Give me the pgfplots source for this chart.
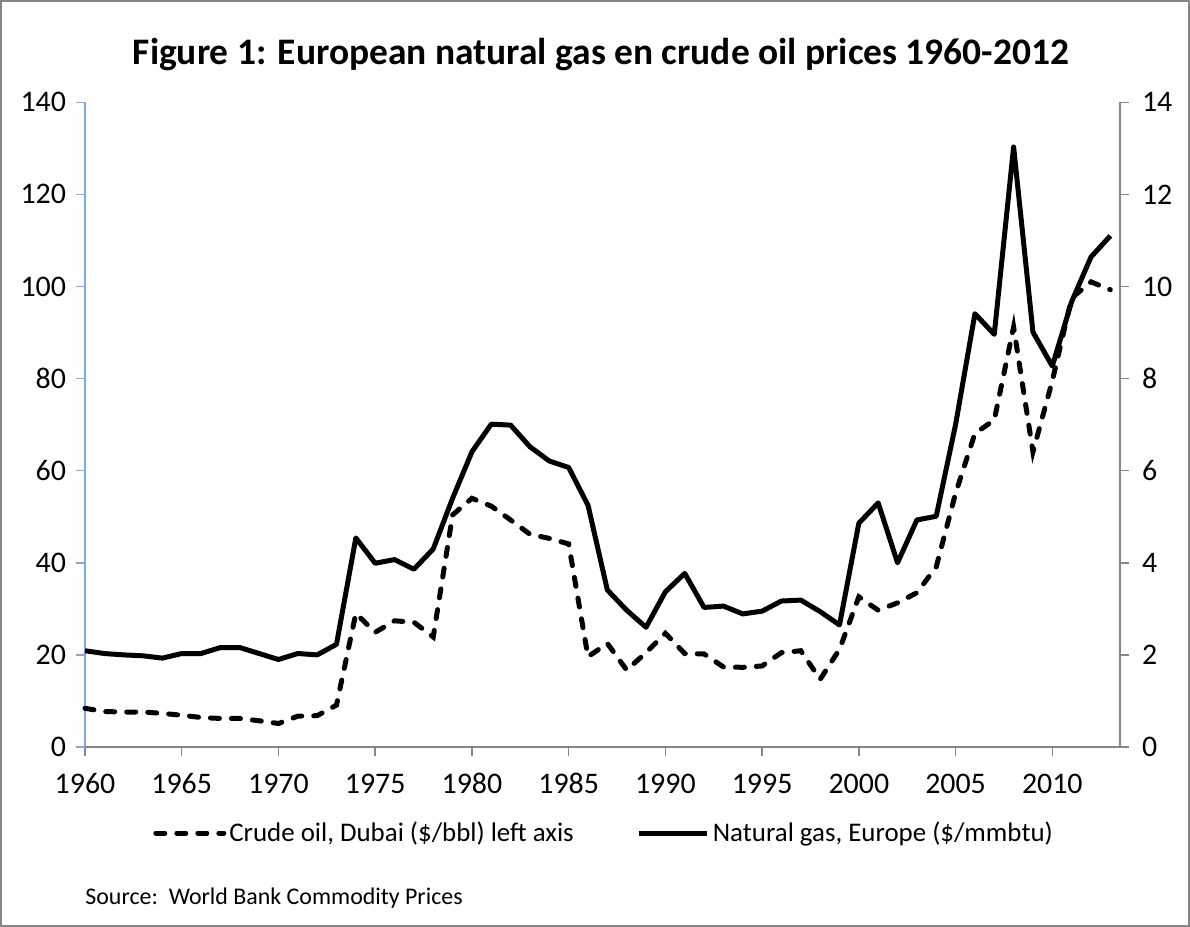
\documentclass[border=0pt]{standalone}
\usepackage{fontspec}
\setmainfont{Carlito}
\usepackage{pgfplots}
\pgfplotsset{compat=1.18}
\usepackage{pgfplotstable}

\definecolor{axisblue}{RGB}{134,170,219}
\definecolor{axisgrey}{RGB}{134,134,134}

% Crude oil, Dubai ($/bbl), left axis
\pgfplotstableread{
year oil
1960 8.4
1961 7.7
1962 7.6
1963 7.6
1964 7.3
1965 6.9
1966 6.4
1967 6.2
1968 6.2
1969 5.7
1970 5.1
1971 6.7
1972 6.8
1973 9.1
1974 29.0
1975 24.9
1976 27.4
1977 27.1
1978 23.9
1979 50.4
1980 54.0
1981 52.3
1982 49.3
1983 46.2
1984 45.3
1985 44.1
1986 19.6
1987 22.5
1988 16.7
1989 20.5
1990 24.7
1991 20.3
1992 20.2
1993 17.4
1994 17.3
1995 17.6
1996 20.5
1997 20.9
1998 14.7
1999 21.2
2000 32.6
2001 29.7
2002 31.3
2003 33.5
2004 39.1
2005 55.1
2006 68.1
2007 71.0
2008 91.2
2009 64.1
2010 79.5
2011 97.5
2012 101.0
2013 99.3
}\oiltable

% Natural gas, Europe ($/mmbtu), right axis
\pgfplotstableread{
year gas
1960 2.09
1961 2.03
1962 2.00
1963 1.98
1964 1.93
1965 2.03
1966 2.03
1967 2.16
1968 2.16
1969 2.03
1970 1.90
1971 2.03
1972 2.00
1973 2.23
1974 4.54
1975 3.99
1976 4.07
1977 3.86
1978 4.30
1979 5.40
1980 6.41
1981 7.01
1982 6.99
1983 6.52
1984 6.21
1985 6.07
1986 5.25
1987 3.41
1988 2.97
1989 2.60
1990 3.37
1991 3.77
1992 3.03
1993 3.06
1994 2.89
1995 2.95
1996 3.17
1997 3.19
1998 2.94
1999 2.65
2000 4.86
2001 5.30
2002 4.00
2003 4.93
2004 5.01
2005 7.00
2006 9.41
2007 8.96
2008 13.03
2009 9.01
2010 8.27
2011 9.67
2012 10.64
2013 11.10
}\gastable

\pgfplotsset{
  chartbase/.style={
    at={(42.5bp,90bp)}, anchor=south west,
    scale only axis, width=517.5bp, height=322.35bp,
    xmin=1960, xmax=2013.5,
    tick align=outside, major tick length=4.5bp,
    ticklabel style={font=\fontsize{15}{17}\selectfont, text=black},
    /pgf/number format/assume math mode=true,
    /pgf/number format/1000 sep={},
    clip=false,
  },
  oilline/.style={black, line width=2.5bp, line cap=round, dash pattern=on 4.5bp off 6bp},
  gasline/.style={black, line width=2.5bp, line join=round},
}

\begin{document}
\begin{tikzpicture}
\draw[axisgrey, line width=1.2bp] (0.6bp,0.6bp) rectangle (594.4bp,462.9bp);
\node[font=\bfseries\fontsize{18.8}{22}\selectfont, anchor=base] at (300.5bp,431.3bp)
  {Figure 1: European natural gas en crude oil prices 1960-2012};
\node[font=\fontsize{12}{14}\selectfont, anchor=base west, inner sep=0pt] at (42.5bp,11.5bp)
  {Source:\ \ World Bank Commodity Prices};

\begin{axis}[chartbase,
  ymin=0, ymax=140,
  axis x line*=bottom, axis y line*=left,
  xtick={1960,1965,...,2010}, ytick={0,20,...,140},
  x axis line style={axisgrey, line width=0.75bp},
  y axis line style={axisblue, line width=0.75bp},
  every x tick/.append style={axisgrey, line width=0.75bp},
  every y tick/.append style={axisblue, line width=0.75bp},
  xticklabel style={text height=10.5bp, text depth=0pt, yshift=-4.5bp},
  yticklabel style={xshift=-1.5bp},
  legend columns=2,
  legend style={at={(0.502,-0.1334)}, anchor=center, draw=none, fill=none,
    font=\fontsize{13.5}{16}\selectfont, nodes={inner sep=1.5bp},
    /tikz/every even column/.append style={column sep=30bp}},
  legend image code/.code={\draw[#1] (0bp,0bp) -- (34bp,0bp);},
]
\addplot[oilline] table[x=year, y=oil] {\oiltable};
\addlegendentry{Crude oil, Dubai (\$/bbl) left axis}
\addlegendimage{gasline}
\addlegendentry{Natural gas, Europe (\$/mmbtu)}
\end{axis}

\begin{axis}[chartbase,
  ymin=0, ymax=14,
  axis y line*=right, axis x line=none,
  ytick={0,2,...,14},
  y axis line style={axisgrey, line width=0.75bp},
  every y tick/.append style={axisgrey, line width=0.75bp},
  yticklabel style={xshift=3bp},
]
\addplot[gasline] table[x=year, y=gas] {\gastable};
\end{axis}
\end{tikzpicture}
\end{document}
